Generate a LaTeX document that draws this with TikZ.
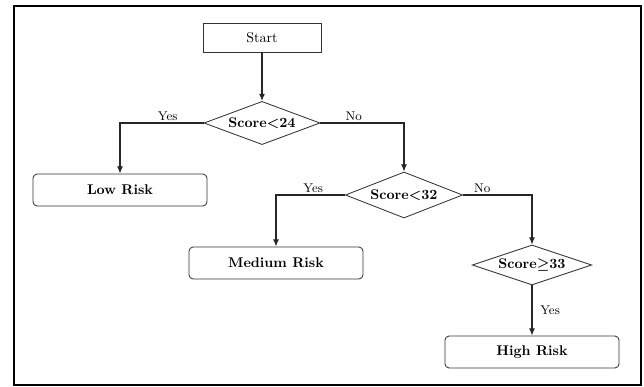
\documentclass[tikz,border=0pt]{standalone}
\usetikzlibrary{
  arrows.meta,
  shapes.geometric
}
\tikzset{
  flow/.style={-{Latex[length=1.8mm,width=1.5mm]},thick,draw=black!85},
  start box/.style={
    draw=black!80,
    semithick,
    minimum width=2.95cm,
    minimum height=0.72cm,
    inner sep=2pt
  },
  result box/.style={
    draw=black!80,
    semithick,
    rounded corners=3pt,
    font=\bfseries,
    minimum width=4.35cm,
    minimum height=0.8cm,
    inner sep=2pt
  },
  decision/.style={
    diamond,
    draw=black!80,
    semithick,
    aspect=2.7,
    inner sep=0pt,
    font=\bfseries\boldmath
  },
  branchlabel/.style={font=\small,inner sep=1.5pt}
}

\begin{document}
\begin{tikzpicture}[x=0.025cm,y=-0.025cm]
  \useasboundingbox (0,0) rectangle (644,387);
  \draw[line width=1.6pt] (14,6) rectangle (641,385);

  \node[start box] (start) at (262,38) {Start};

  \node[decision,minimum width=2.9cm,minimum height=1.08cm] (lowtest) at (262,123) {Score$<$24};
  \node[result box] (low) at (120,190) {Low Risk};

  \node[decision,minimum width=2.93cm,minimum height=1.15cm] (medtest) at (404,195) {Score$<$32};
  \node[result box] (medium) at (276,263) {Medium Risk};

  \node[decision,minimum width=2.98cm,minimum height=1.0cm] (hightest) at (532,265) {Score$\geq$33};
  \node[result box] (high) at (532,352) {High Risk};

  \draw[flow] (start) -- (lowtest);
  \draw[flow] (lowtest.west) -| node[branchlabel,above,pos=0.215] {Yes} (low.north);
  \draw[flow] (lowtest.east) -| node[branchlabel,above,pos=0.2] {No} (medtest.north);
  \draw[flow] (medtest.west) -| node[branchlabel,above,pos=0.23] {Yes} (medium.north);
  \draw[flow] (medtest.east) -| node[branchlabel,above,pos=0.14] {No} (hightest.north);
  \draw[flow] (hightest) -- node[branchlabel,right=4pt,pos=0.5] {Yes} (high);
\end{tikzpicture}
\end{document}
